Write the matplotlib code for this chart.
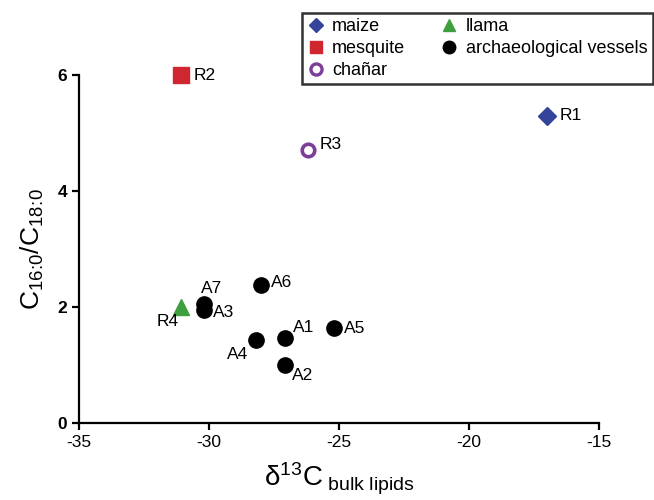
import matplotlib
matplotlib.use('Agg')
import matplotlib.pyplot as plt
from matplotlib.lines import Line2D

plt.rcParams['font.family'] = ['Liberation Sans', 'DejaVu Sans']
plt.rcParams['mathtext.fontset'] = 'custom'
plt.rcParams['mathtext.rm'] = 'Liberation Sans'
plt.rcParams['mathtext.it'] = 'Liberation Sans:italic'
plt.rcParams['axes.unicode_minus'] = False

# reference samples
ref_names = ['R1', 'R2', 'R3', 'R4']
ref_x = [-17.0, -31.1, -26.2, -31.1]
ref_y = [5.3, 6.0, 4.7, 2.0]

# archaeological vessels
ves_names = ['A1', 'A2', 'A3', 'A4', 'A5', 'A6', 'A7']
ves_x = [-27.1, -27.1, -30.2, -28.2, -25.2, -28.0, -30.2]
ves_y = [1.47, 1.0, 1.95, 1.43, 1.63, 2.38, 2.05]

blue = '#34449b'
red = '#d02630'
purple = '#7b3f98'
green = '#3f9f3f'

fig = plt.figure(figsize=(6.54, 5.0), dpi=100)
ax = fig.add_axes([0.121, 0.154, 0.795, 0.696])

# reference points
ax.plot(ref_x[0], ref_y[0], 'D', color=blue, ms=9, clip_on=False, zorder=3)
ax.plot(ref_x[1], ref_y[1], 's', color=red, ms=11, clip_on=False, zorder=3)
ax.plot(ref_x[2], ref_y[2], 'o', mfc='white', mec=purple, mew=2.6, ms=9, clip_on=False, zorder=3)
ax.plot(ref_x[3], ref_y[3], '^', color=green, ms=11, clip_on=False, zorder=3)

ax.plot(ves_x, ves_y, 'o', color='black', ms=11, ls='none', clip_on=False, zorder=3)

# label offsets (pixels) and alignment
ref_off = {'R1': (13, 0, 'left'), 'R2': (13, 0, 'left'), 'R3': (12, 6, 'left'), 'R4': (-13, -15, 'center')}
ves_off = {'A1': (8, 10, 'left'), 'A2': (7, -10, 'left'), 'A3': (9, -3, 'left'), 'A4': (-8, -14, 'right'),
           'A5': (10, 0, 'left'), 'A6': (10, 2, 'left'), 'A7': (8, 16, 'center')}

for n, x, y in zip(ref_names, ref_x, ref_y):
    dx, dy, ha = ref_off[n]
    ax.annotate(n, (x, y), xytext=(dx, dy), textcoords='offset pixels', ha=ha, va='center', fontsize=12.5)
for n, x, y in zip(ves_names, ves_x, ves_y):
    dx, dy, ha = ves_off[n]
    ax.annotate(n, (x, y), xytext=(dx, dy), textcoords='offset pixels', ha=ha, va='center', fontsize=12.5)

ax.set_xlim(-35, -15)
ax.set_ylim(0, 6)
ax.set_xticks([-35, -30, -25, -20, -15])
ax.set_yticks([0, 2, 4, 6])
for s in ['top', 'right']:
    ax.spines[s].set_visible(False)
for s in ['left', 'bottom']:
    ax.spines[s].set_linewidth(1.6)
ax.tick_params(width=1.6, length=5, labelsize=12.5)
for lab in ax.get_yticklabels():
    lab.set_fontweight('bold')

ax.set_xlabel(r'δ$^{13}$C$_{\ \mathrm{bulk\ lipids}}$', fontsize=20, labelpad=8)
ax.set_ylabel(r'C$_{16\!:\!0}$/C$_{18\!:\!0}$', fontsize=19, labelpad=8)

handles = [
    Line2D([], [], marker='D', color=blue, ls='none', ms=7),
    Line2D([], [], marker='s', color=red, ls='none', ms=8),
    Line2D([], [], marker='o', mfc='white', mec=purple, mew=2.4, ls='none', ms=8),
    Line2D([], [], marker='^', color=green, ls='none', ms=8),
    Line2D([], [], marker='o', color='black', ls='none', ms=9),
]
labels = ['maize', 'mesquite', 'chañar', 'llama', 'archaeological vessels']
leg = fig.legend(handles, labels, ncol=2, loc='upper left', bbox_to_anchor=(0.462, 0.975),
                 borderaxespad=0, fontsize=13, frameon=True, fancybox=False, handlelength=0.9,
                 handletextpad=0.45, columnspacing=2.0, labelspacing=0.28, borderpad=0.3)
leg.get_frame().set_edgecolor('black')
leg.get_frame().set_linewidth(1.8)

fig.savefig('out.png', dpi=100)
